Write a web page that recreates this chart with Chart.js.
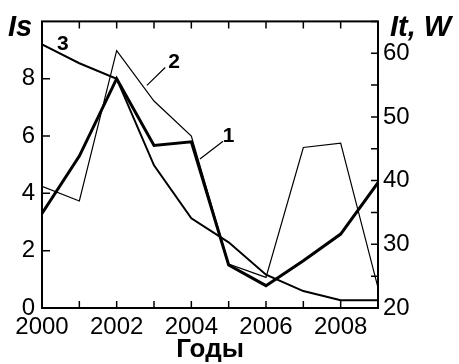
<!DOCTYPE html>
<html>
<head>
<meta charset="utf-8">
<script src="https://cdn.jsdelivr.net/npm/chart.js@4"></script>
<style>
  html, body { margin: 0; padding: 0; background: #fff; }
</style>
</head>
<body>
<canvas id="chart" width="459" height="364"></canvas>
<script>
const years = [2000, 2001, 2002, 2003, 2004, 2005, 2006, 2007, 2008, 2009];
// curve 1 - thick line, left axis (Is)
const curve1 = [3.3, 5.3, 8.0, 5.67, 5.8, 1.5, 0.78, 1.65, 2.58, 4.37];
// curve 2 - thin line, right axis (It, W)
const curve2 = [39.1, 36.8, 60.4, 52.5, 47.0, 26.9, 24.8, 45.2, 45.9, 23.2];
// curve 3 - medium line, left axis (Is)
const curve3 = [9.2, 8.54, 8.0, 4.98, 3.13, 2.29, 1.16, 0.59, 0.27, 0.27];

const FONT = '"Liberation Sans", Arial, sans-serif';

const toPoints = (ys) => years.map((x, i) => ({ x, y: ys[i] }));

// frame, inward ticks and curve labels
const framePlugin = {
  id: 'frame',
  afterDatasetsDraw(chart) {
    const { ctx, chartArea: a, scales } = chart;
    const xs = scales.x;
    const yl = scales.y;
    const yr = scales.y2;
    ctx.save();
    ctx.strokeStyle = '#000';
    ctx.lineWidth = 2;
    ctx.strokeRect(a.left, a.top, a.right - a.left, a.bottom - a.top);

    ctx.lineWidth = 1.5;
    ctx.beginPath();
    years.forEach((yr0) => {
      const px = xs.getPixelForValue(yr0);
      ctx.moveTo(px, a.bottom);
      ctx.lineTo(px, a.bottom - 7);
      ctx.moveTo(px, a.top);
      ctx.lineTo(px, a.top + 7);
    });
    [0, 2, 4, 6, 8].forEach((v) => {
      const py = yl.getPixelForValue(v);
      ctx.moveTo(a.left, py);
      ctx.lineTo(a.left + 8, py);
    });
    for (let v = 20; v <= 65; v += 5) {
      const py = yr.getPixelForValue(v);
      ctx.moveTo(a.right, py);
      ctx.lineTo(a.right - 7, py);
    }
    ctx.stroke();

    // leader lines for curve numbers
    ctx.lineWidth = 1.2;
    ctx.beginPath();
    ctx.moveTo(xs.getPixelForValue(2004.85), yl.getPixelForValue(5.82));
    ctx.lineTo(xs.getPixelForValue(2004.23), yl.getPixelForValue(5.2));
    ctx.moveTo(xs.getPixelForValue(2003.3), yl.getPixelForValue(8.39));
    ctx.lineTo(xs.getPixelForValue(2002.81), yl.getPixelForValue(7.77));
    ctx.stroke();

    ctx.fillStyle = '#000';
    ctx.textAlign = 'center';
    ctx.textBaseline = 'middle';
    ctx.font = 'bold 21px ' + FONT;
    ctx.fillText('1', xs.getPixelForValue(2005.0), yl.getPixelForValue(6.0));
    ctx.fillText('2', xs.getPixelForValue(2003.54), yl.getPixelForValue(8.56));
    ctx.fillText('3', xs.getPixelForValue(2000.56), yl.getPixelForValue(9.19));

    // axis names
    ctx.font = 'italic bold 29px ' + FONT;
    ctx.textAlign = 'left';
    ctx.textBaseline = 'alphabetic';
    ctx.fillText('Is', 8, 36);
    ctx.fillText('It, W', 390, 36);
    ctx.restore();
  },
};

const chart = new Chart(document.getElementById('chart'), {
  type: 'line',
  data: {
    datasets: [
      {
        data: toPoints(curve1),
        yAxisID: 'y',
        borderColor: '#000',
        borderWidth: 3,
        pointRadius: 0,
        tension: 0,
      },
      {
        data: toPoints(curve2),
        yAxisID: 'y2',
        borderColor: '#000',
        borderWidth: 1.2,
        pointRadius: 0,
        tension: 0,
      },
      {
        data: toPoints(curve3),
        yAxisID: 'y',
        borderColor: '#000',
        borderWidth: 2,
        pointRadius: 0,
        tension: 0,
      },
    ],
  },
  options: {
    responsive: false,
    animation: false,
    devicePixelRatio: 1,
    layout: { padding: { top: 19, left: 0, right: 0, bottom: 0 } },
    plugins: { legend: { display: false }, tooltip: { enabled: false } },
    scales: {
      x: {
        type: 'linear',
        min: 2000,
        max: 2009,
        grid: { display: false, drawTicks: false },
        border: { display: false },
        ticks: {
          stepSize: 2,
          includeBounds: false,
          autoSkip: false,
          maxRotation: 0,
          padding: 5,
          color: '#000',
          font: { family: FONT, size: 24 },
          callback: (v) => String(v),
        },
        title: {
          display: true,
          text: 'Годы',
          color: '#000',
          padding: { top: 0, bottom: -1 },
          font: { family: FONT, size: 26, weight: 'bold' },
        },
        afterFit: (s) => { s.height = 56; },
      },
      y: {
        position: 'left',
        min: 0,
        max: 10,
        grid: { display: false, drawTicks: false },
        border: { display: false },
        ticks: {
          stepSize: 2,
          padding: 7,
          color: '#000',
          font: { family: FONT, size: 24 },
          callback: (v) => (v === 10 ? '' : String(v)),
        },
        afterFit: (s) => { s.width = 42; },
      },
      y2: {
        position: 'right',
        min: 20,
        max: 65,
        grid: { display: false, drawTicks: false },
        border: { display: false },
        ticks: {
          stepSize: 10,
          includeBounds: false,
          padding: 5,
          color: '#000',
          font: { family: FONT, size: 24 },
          callback: (v) => String(v),
        },
        afterFit: (s) => { s.width = 81; },
      },
    },
  },
  plugins: [framePlugin],
});
</script>
</body>
</html>
